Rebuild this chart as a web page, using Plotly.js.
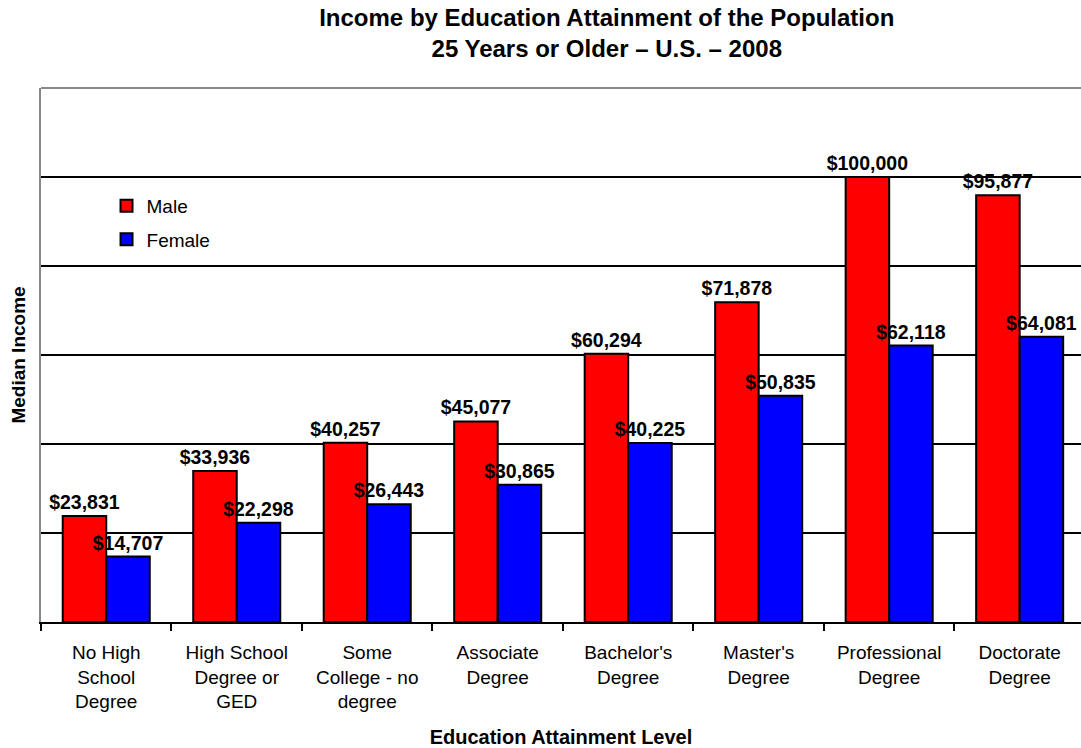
<!DOCTYPE html>
<html>
<head>
<meta charset="utf-8">
<script src="https://cdn.plot.ly/plotly-3.0.1.min.js"></script>
<style>
html,body{margin:0;padding:0;overflow:hidden;background:#fff;}
#chart{width:1081px;height:748px;}
</style>
</head>
<body>
<div id="chart"></div>
<script>
const categories = [
  "No High<br>School<br>Degree",
  "High School<br>Degree or<br>GED",
  "Some<br>College - no<br>degree",
  "Associate<br>Degree",
  "Bachelor's<br>Degree",
  "Master's<br>Degree",
  "Professional<br>Degree",
  "Doctorate<br>Degree"
];
const maleIncome = [23831, 33936, 40257, 45077, 60294, 71878, 100000, 95877];
const femaleIncome = [14707, 22298, 26443, 30865, 40225, 50835, 62118, 64081];

const FONT = "Arial, 'Liberation Sans', sans-serif";
const fmt = v => "$" + v.toLocaleString("en-US");

const common = {
  type: "bar",
  x: categories,
  textposition: "outside",
  cliponaxis: false,
  constraintext: "none",
  textfont: {family: FONT, size: 19.5, color: "#000", weight: "bold"},
  hoverinfo: "none"
};

const traces = [
  Object.assign({}, common, {
    name: "Male", y: maleIncome, text: maleIncome.map(fmt),
    legendgroup: "m",
    marker: {color: "#ff0000", line: {color: "#000", width: 2}}
  }),
  Object.assign({}, common, {
    name: "Female", y: femaleIncome, text: femaleIncome.map(fmt),
    legendgroup: "f",
    marker: {color: "#0000ff", line: {color: "#000", width: 2}}
  })
];

const layout = {
  width: 1081, height: 748,
  margin: {l: 41, r: 0, t: 88, b: 126},
  paper_bgcolor: "#fff", plot_bgcolor: "#fff",
  font: {family: FONT, color: "#000"},
  barmode: "group",
  bargap: 0.333,
  bargroupgap: 0,
  title: {
    text: "Income by Education Attainment of the Population<br>25 Years or Older \u2013 U.S. \u2013 2008",
    font: {family: FONT, size: 24, color: "#000", weight: "bold"},
    x: 0.544, xanchor: "center", xref: "paper",
    y: 0.965, yanchor: "middle", yref: "container"
  },
  xaxis: {
    range: [-0.5, 7.47],
    showline: true, linecolor: "#000", linewidth: 2,
    ticks: "outside", tickson: "boundaries", ticklen: 7, tickwidth: 2, tickcolor: "#000",
    ticklabelstandoff: 12,
    tickfont: {family: FONT, size: 19, color: "#000"},
    showgrid: false,
    title: {text: "Education Attainment Level", font: {family: FONT, size: 20, color: "#000", weight: "bold"}, standoff: 19}
  },
  yaxis: {
    range: [0, 120000],
    dtick: 20000,
    showgrid: true, gridcolor: "#000", gridwidth: 2,
    zeroline: false,
    showline: true, linecolor: "#888", linewidth: 2,
    showticklabels: false, ticks: "",
    title: {text: "Median Income", font: {family: FONT, size: 19, color: "#000", weight: "bold"}, standoff: 8}
  },
  showlegend: true,
  legend: {
    x: 0.063, y: 0.815, xanchor: "left", yanchor: "top",
    font: {family: FONT, size: 19, color: "#000"},
    bgcolor: "rgba(0,0,0,0)",
    tracegroupgap: 6,
    itemclick: false
  },
  shapes: [
    {type: "line", xref: "paper", yref: "paper", x0: 0, x1: 1, y0: 1, y1: 1,
     line: {color: "#888", width: 2}, layer: "above"}
  ]
};

Plotly.newPlot("chart", traces, layout, {staticPlot: true, displayModeBar: false});
</script>
</body>
</html>
